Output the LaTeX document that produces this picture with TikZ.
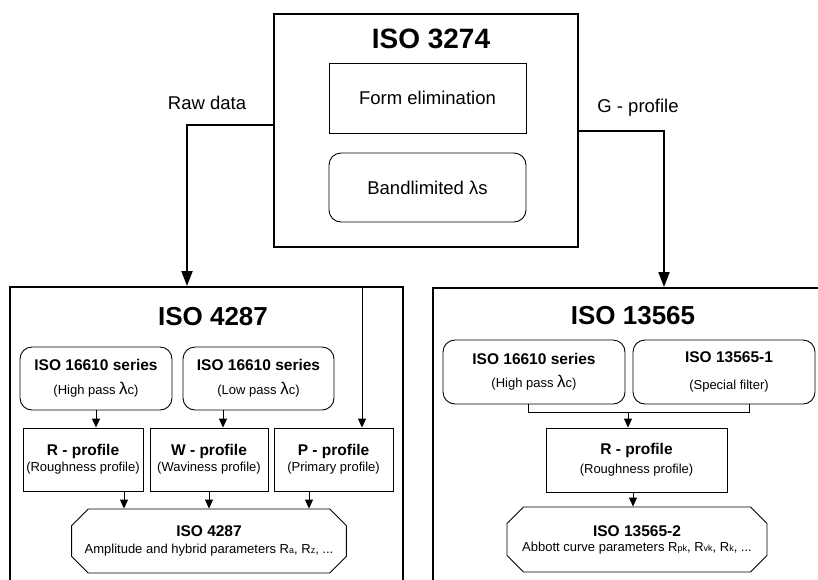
\documentclass[tikz,border=0pt]{standalone}
\usepackage{fontspec}
\setmainfont{Liberation Sans}
\usetikzlibrary{arrows.meta,shapes.misc}
\newcommand{\boxhead}[1]{{\fontsize{15.5}{17}\selectfont\bfseries #1}}
\newcommand{\lam}{{\fontsize{17}{17}\selectfont λ}}
\newcommand{\low}[1]{{\fontsize{9}{9}\selectfont #1}}

\begin{document}
\begin{tikzpicture}[x=1pt,y=-1pt,
  >={Triangle[length=9pt,width=8pt]},
  stdbox/.style={draw,line width=0.9pt,inner sep=0pt,align=center,
    font=\fontsize{13}{16}\selectfont},
  roundbox/.style={stdbox,rounded corners=12pt},
  octbox/.style={stdbox,chamfered rectangle,chamfered rectangle xsep=13pt},
  bigbox/.style={draw,line width=2pt,inner sep=0pt},
  bigarrow/.style={line width=2pt,-{Triangle[length=15pt,width=11pt]}},
  smallarrow/.style={line width=0.9pt,->},
  title/.style={anchor=base,font=\fontsize{26}{30}\selectfont\bfseries},
  flowlabel/.style={anchor=base,font=\fontsize{18.5}{22}\selectfont}]
  \def\boxh{63pt}
  \useasboundingbox (0,0) rectangle (818,579);

  \node[bigbox, minimum width=304pt, minimum height=233pt] (iso3274) at (426, 130.5) {};
  \node[title, font=\fontsize{28}{32}\selectfont\bfseries] (t3274) at (431, 48) {ISO 3274};
  \node[stdbox, minimum width=197pt, minimum height=70pt,
    font=\fontsize{18.5}{22}\selectfont] (form) at (427.5, 98) {Form elimination};
  \node[roundbox, minimum width=197pt, minimum height=69pt,
    font=\fontsize{18.5}{22}\selectfont] (band) at (427.5, 187.5) {Bandlimited λs};

  \node[bigbox, minimum width=393pt, minimum height=313pt] (iso4287) at (206.5, 443.5) {};
  \node[title] (t4287) at (213, 325) {ISO 4287};
  \node[bigbox, minimum width=397pt, minimum height=312pt] (iso13565) at (631.5, 444) {};
  \node[title] (t13565) at (633, 324) {ISO 13565};

  \coordinate (rawbend) at (187, 125);
  \coordinate (gbend) at (664, 131);
  \node[flowlabel] (raw) at (207, 109) {Raw data};
  \node[flowlabel] (gprof) at (638, 112) {G - profile};

  \draw[bigarrow] (iso3274.west |- rawbend) -- (rawbend) -- (rawbend |- iso4287.north);
  \draw[bigarrow] (iso3274.east |- gbend) -- (gbend) -- (gbend |- iso13565.north);

  \node[roundbox, minimum width=152pt, minimum height=\boxh] (hp) at (96, 378.5)
    {\boxhead{ISO 16610 series}\\[8pt](High pass \lam c)};
  \node[roundbox, minimum width=151pt, minimum height=\boxh] (lp) at (258.5, 378.5)
    {\boxhead{ISO 16610 series}\\[8pt](Low pass \lam c)};
  \node[stdbox, minimum width=120pt, minimum height=\boxh] (rprof) at (83, 459.5)
    {\boxhead{R - profile}\\(Roughness profile)};
  \node[stdbox, minimum width=118pt, minimum height=\boxh] (wprof) at (209, 459.5)
    {\boxhead{W - profile}\\(Waviness profile)};
  \node[stdbox, minimum width=119pt, minimum height=\boxh] (pprof) at (333.5, 459.5)
    {\boxhead{P - profile}\\(Primary profile)};
  \node[octbox, minimum width=260pt, minimum height=64pt] (amp) at (209, 541)
    {\boxhead{ISO 4287}\\[1pt]Amplitude and hybrid parameters R\low{a}, R\low{z}, ...};

  \coordinate (ptap) at (362, 0);
  \coordinate (lptap) at (223, 0);
  \coordinate (rtap) at (124, 0);
  \coordinate (ptap2) at (309, 0);

  \draw[smallarrow] (iso4287.north -| ptap) -- (pprof.north -| ptap);
  \draw[smallarrow] (hp.south) -- (rprof.north -| hp.south);
  \draw[smallarrow] (lp.south -| lptap) -- (wprof.north -| lptap);
  \draw[smallarrow] (rprof.south -| rtap) -- (amp.north -| rtap);
  \draw[smallarrow] (wprof.south) -- (amp.north -| wprof.south);
  \draw[smallarrow] (pprof.south -| ptap2) -- (amp.north -| ptap2);

  \node[roundbox, minimum width=182pt, minimum height=64pt] (hp2) at (534, 372)
    {\boxhead{ISO 16610 series}\\[7pt](High pass \lam c)};
  \node[roundbox, minimum width=182pt, minimum height=64pt] (sf) at (724, 372)
    {\hspace{10pt}\boxhead{ISO 13565-1}\\[11pt]\hspace{10pt}(Special filter)};
  \node[stdbox, minimum width=181pt, minimum height=64pt] (rprof2) at (636.5, 460)
    {\boxhead{R - profile}\\[3pt](Roughness profile)};
  \node[octbox, minimum width=260pt, minimum height=65pt] (abbott) at (637, 539.5)
    {\boxhead{ISO 13565-2}\\[-1pt]Abbott curve parameters R\low{pk}, R\low{vk}, R\low{k}, ...};

  \coordinate (bl) at (528, 412);
  \coordinate (br) at (749, 412);
  \coordinate (bm) at (628, 412);
  \coordinate (atap) at (633, 0);

  \draw[line width=0.9pt] (hp2.south -| bl) -- (bl) -- (br) -- (sf.south -| br);
  \draw[smallarrow] (bm) -- (rprof2.north -| bm);
  \draw[smallarrow] (rprof2.south -| atap) -- (abbott.north -| atap);
\end{tikzpicture}
\end{document}
